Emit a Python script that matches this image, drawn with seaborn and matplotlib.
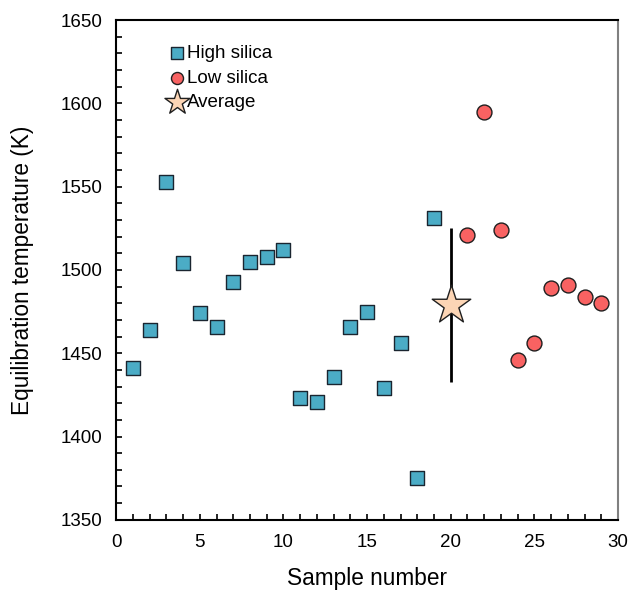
import numpy as np
import pandas as pd
import matplotlib
matplotlib.use('Agg')
import matplotlib.pyplot as plt
from matplotlib.ticker import MultipleLocator
import seaborn as sns

# Data
high_x = list(range(1, 20))
high_t = [1441, 1464, 1553, 1504, 1474, 1466, 1493, 1505, 1508, 1512,
          1423, 1421, 1436, 1466, 1475, 1429, 1456, 1375, 1531]
low_x = list(range(21, 30))
low_t = [1521, 1595, 1524, 1446, 1456, 1489, 1491, 1484, 1480]
avg_x = [20]
avg_t = [1479]
avg_err = [46]

high = pd.DataFrame({'Sample': high_x, 'T': high_t})
low = pd.DataFrame({'Sample': low_x, 'T': low_t})
avg = pd.DataFrame({'Sample': avg_x, 'T': avg_t, 'err': avg_err})

sns.set_style('white')
plt.rcParams['font.family'] = ['Liberation Sans', 'DejaVu Sans']
plt.rcParams['text.color'] = 'black'
plt.rcParams['axes.labelcolor'] = 'black'

fig = plt.figure(figsize=(6.28, 5.90), dpi=100)
ax = fig.add_axes([0.185, 0.119, 0.799, 0.847])

ax.errorbar(avg['Sample'], avg['T'], yerr=avg['err'], fmt='none',
            ecolor='black', elinewidth=2, capsize=0, zorder=2)
sns.scatterplot(data=high, x='Sample', y='T', ax=ax, marker='s', s=105,
                color='#4BACC6', edgecolor='#1a2530', linewidth=1,
                label='High silica', zorder=3)
sns.scatterplot(data=low, x='Sample', y='T', ax=ax, marker='o', s=115,
                color='#F86262', edgecolor='#1f1f1f', linewidth=1,
                label='Low silica', zorder=3)
sns.scatterplot(data=avg, x='Sample', y='T', ax=ax, marker='*', s=850,
                color='#FCD5B5', edgecolor='#1f1f1f', linewidth=1,
                label='Average', zorder=4)

ax.set_xlim(0, 30)
ax.set_ylim(1350, 1650)
ax.xaxis.set_major_locator(MultipleLocator(5))
ax.xaxis.set_minor_locator(MultipleLocator(1))
ax.yaxis.set_major_locator(MultipleLocator(50))
ax.yaxis.set_minor_locator(MultipleLocator(10))
ax.tick_params(which='both', direction='in', top=False, right=False,
               left=True, bottom=True, length=4, width=1.2,
               labelsize=13.5, colors='black', pad=10)

for side in ['left', 'bottom', 'top']:
    ax.spines[side].set_color('black')
    ax.spines[side].set_linewidth(1.5)
ax.spines['right'].set_color('#808080')
ax.spines['right'].set_linewidth(1.5)

ax.set_xlabel('Sample number', fontsize=16.3, labelpad=12)
ax.set_ylabel('Equilibration temperature (K)', fontsize=16.3, labelpad=19)

leg = ax.legend(loc='upper left', bbox_to_anchor=(0.058, 0.984), frameon=False,
                fontsize=13.5, handletextpad=-0.3, labelspacing=0.4,
                handlelength=1.6)
for h in leg.legend_handles[:2]:
    h.set_sizes([75])
leg.legend_handles[2].set_sizes([360])

fig.savefig('out.png', dpi=100)
